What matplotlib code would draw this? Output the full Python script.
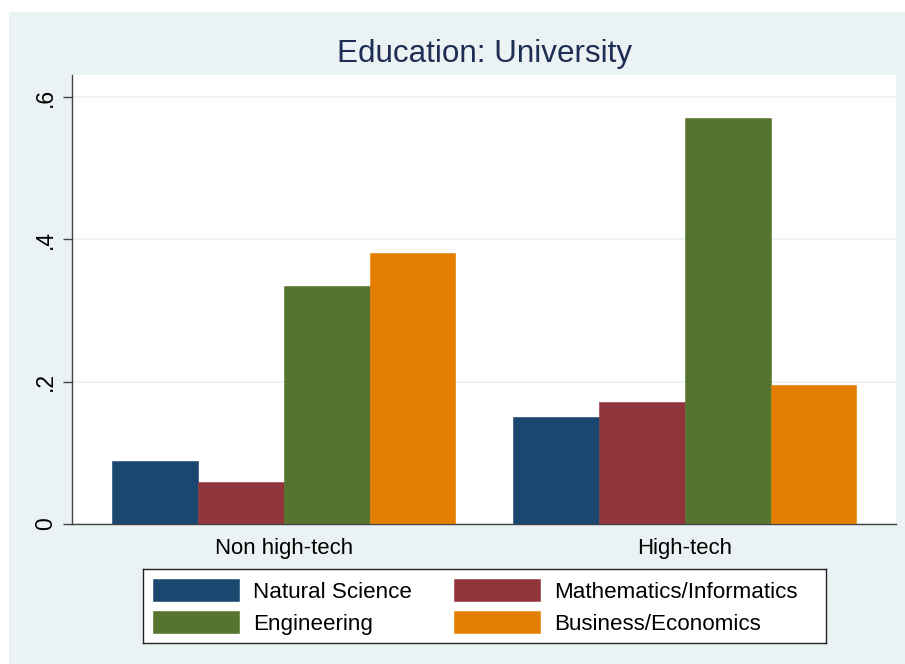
import matplotlib
matplotlib.use("Agg")
import matplotlib.pyplot as plt
from matplotlib.patches import Rectangle
import numpy as np

plt.rcParams['font.family'] = ['Liberation Sans', 'DejaVu Sans']

# ---- data ----
groups = ["Non high-tech", "High-tech"]
series = ["Natural Science", "Mathematics/Informatics", "Engineering", "Business/Economics"]
natural_science = [0.088, 0.150]
math_informatics = [0.059, 0.172]
engineering = [0.334, 0.571]
business_economics = [0.381, 0.196]
yticks = [0, 0.2, 0.4, 0.6]
ytick_labels = ["0", ".2", ".4", ".6"]
title = "Education: University"

values = [natural_science, math_informatics, engineering, business_economics]
colors = ["#1a476f", "#90353b", "#55752f", "#e37e00"]
bg = "#eaf2f3"

W, H = 905, 664
fig = plt.figure(figsize=(W / 100, H / 100), dpi=100)
fig.patch.set_facecolor("white")
# Stata-like light background panel
fig.add_artist(Rectangle((9 / W, 0), 1 - 9 / W, (H - 12) / H, transform=fig.transFigure,
                         facecolor=bg, edgecolor="none", zorder=-10))

def fx(px):
    return px / W

def fy(py):
    return (H - py) / H

ax_l, ax_r, ax_t, ax_b = 72, 896.3, 75, 524
ax = fig.add_axes([fx(ax_l), fy(ax_b), fx(ax_r - ax_l), (ax_b - ax_t) / H])
ax.set_facecolor("white")

x = np.arange(len(groups))
w = 0.2138
for i, (vals, c) in enumerate(zip(values, colors)):
    ax.bar(x + (i - 1.5) * w, vals, width=w, color=c, edgecolor=c, linewidth=0.4,
           label=series[i], zorder=3)

ax.set_xlim(-0.528, 1.527)
ax.set_ylim(0, 0.631)
ax.set_yticks(yticks)
ax.set_yticklabels(ytick_labels)
ax.set_xticks(x)
ax.set_xticklabels(groups)
ax.tick_params(axis='x', length=0, pad=10.3, labelsize=15.9, colors="black")
ax.tick_params(axis='y', length=6.3, width=1.0, color="#444444", pad=4.5,
               labelsize=16.5, labelcolor="black", labelrotation=90)
for lab in ax.get_yticklabels():
    lab.set_va("center")
ax.yaxis.grid(True, color=bg, linewidth=1.3, zorder=0)
ax.set_axisbelow(True)
for s in ["top", "right"]:
    ax.spines[s].set_visible(False)
for s in ["left", "bottom"]:
    ax.spines[s].set_color("#444444")
    ax.spines[s].set_linewidth(1.0)

# title
fig.text(fx((ax_l + ax_r) / 2), fy(62.3), title, ha="center", va="baseline",
         fontsize=22.6, color="#1e2d53")

# legend (manual, pixel layout)
lg_l, lg_r, lg_t, lg_b = 143, 826, 569, 643
lax = fig.add_axes([fx(lg_l), fy(lg_b), fx(lg_r - lg_l), (lg_b - lg_t) / H])
lax.set_xlim(0, lg_r - lg_l)
lax.set_ylim(lg_b - lg_t, 0)
lax.set_xticks([])
lax.set_yticks([])
lax.set_facecolor("white")
for s in lax.spines.values():
    s.set_color("#222222")
    s.set_linewidth(1.0)
col_x = [10, 311.3]
row_y = [9.8, 41.8]
base_y = [28.7, 61.0]
for i, name in enumerate(series):
    r, c = divmod(i, 2)
    lax.add_patch(Rectangle((col_x[c], row_y[r]), 86, 22.6, facecolor=colors[i],
                            edgecolor=colors[i], linewidth=0.4))
    lax.text(col_x[c] + 86 + 14, base_y[r], name, ha="left", va="baseline",
             fontsize=16.1, color="black")

fig.savefig("out.png", dpi=100, facecolor=fig.get_facecolor())
